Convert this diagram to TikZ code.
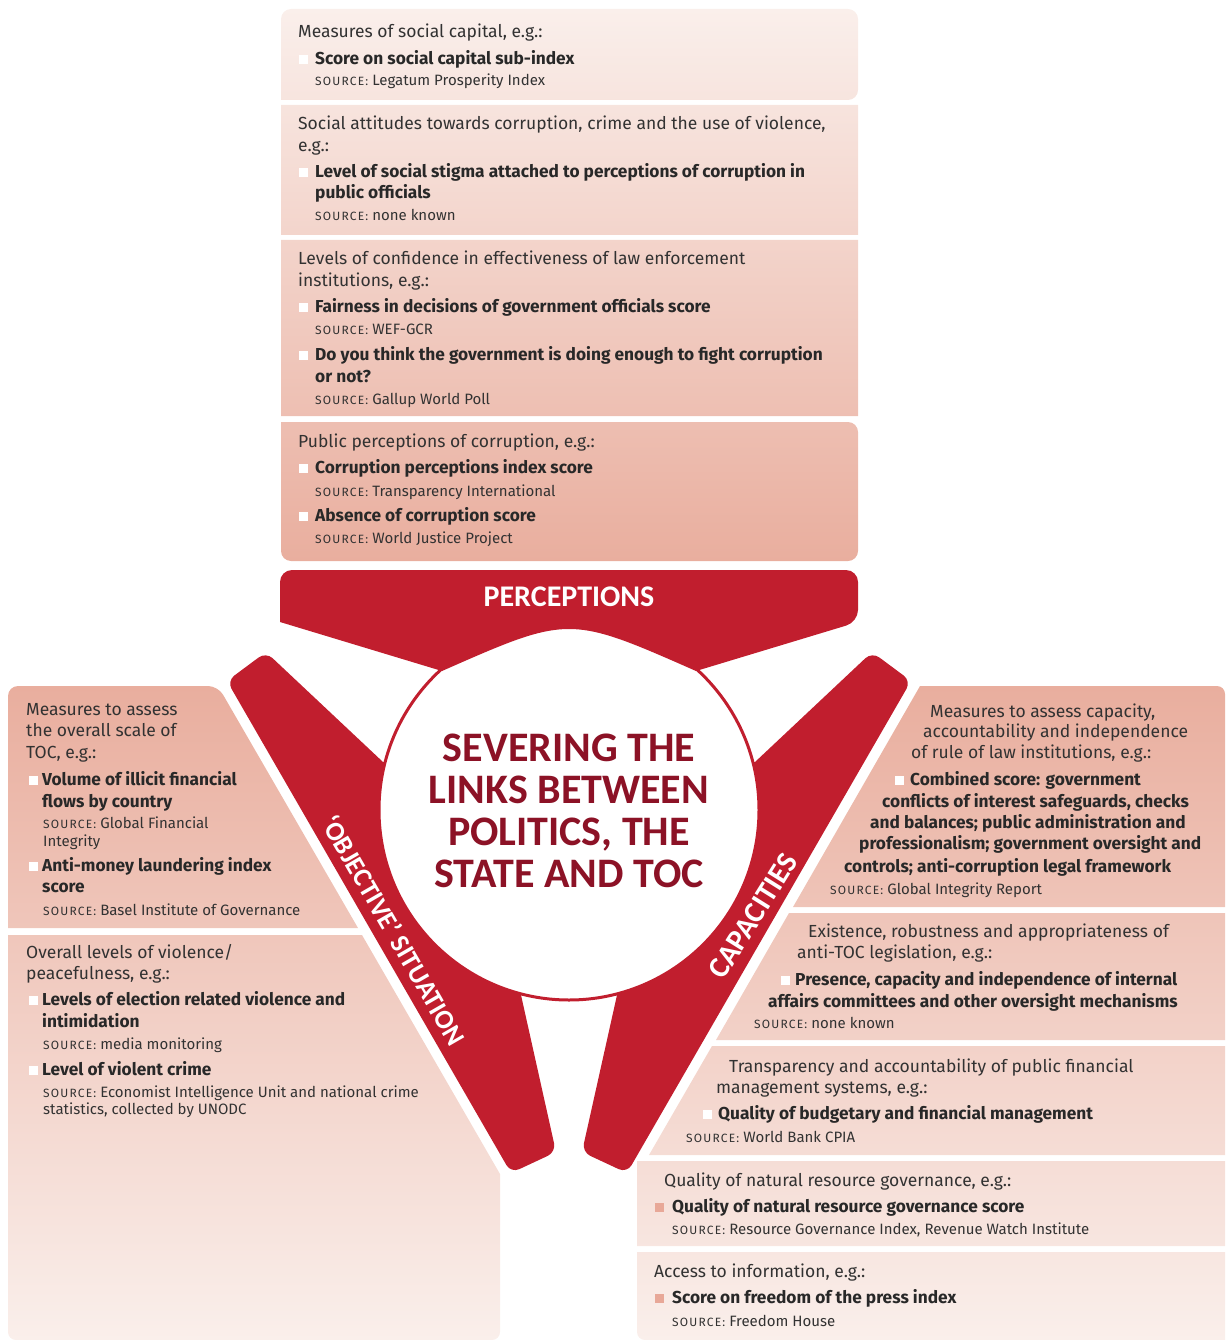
\documentclass[tikz,border=0pt]{standalone}
\usepackage{fontspec}
\setmainfont{Fira Sans}
\newfontfamily\bandfont{Carlito}
\definecolor{redband}{RGB}{193,30,46}
\definecolor{titlered}{RGB}{140,18,38}
\definecolor{boxdark}{RGB}{233,174,158}
\definecolor{boxlight}{RGB}{250,239,235}
\definecolor{txtdark}{RGB}{40,40,40}
\definecolor{txtgray}{RGB}{50,50,50}
\definecolor{bulpink}{RGB}{232,168,152}
\newcommand{\srcmark}{{\addfontfeatures{LetterSpace=10}\fontsize{12}{13}\selectfont SOURCE:}}
\begin{document}
\begin{tikzpicture}
          [x=1pt,y=-1pt,
          line/.style={anchor=base west,inner sep=0pt,text height=12pt,text depth=3.5pt},
          hd/.style={line,text=txtgray,font=\fontsize{17.5}{19}\selectfont},
          itm/.style={line,text=txtdark,font=\bfseries\fontsize{17.3}{19}\selectfont},
          src/.style={line,text=txtgray,text height=11pt,font=\fontsize{15}{16}\selectfont},
          bul/.style={fill=white,minimum size=9pt,inner sep=0pt},
          pbul/.style={bul,fill=bulpink},
          armtext/.style={text=white,font=\bandfont\bfseries\fontsize{27}{27}\selectfont}]

          \useasboundingbox (0,0) rectangle (1225,1340);

          % indicator boxes
          \shade[top color=boxlight,bottom color=boxdark]
            (281,100) [rounded corners=10] -- (281,9) -- (858,9) -- (858,100) [sharp corners] -- cycle
            (281,105) rectangle (858,235)
            (281,240) rectangle (858,416)
            (281,422) [rounded corners=10] -- (281,561) -- (858,561) -- (858,422) [sharp corners] -- cycle;
          \shade[top color=boxdark,bottom color=boxlight]
            (8,928) [rounded corners=10] -- (8,686) -- (218,686) [sharp corners] -- (358,928) -- cycle
            (8,935) -- (362,935) -- (500,1174) [rounded corners=8] -- (500,1340) -- (8,1340) [sharp corners] -- cycle;
          \shade[top color=boxdark,bottom color=boxlight]
            (920,686) [rounded corners=8] -- (1225,686) [sharp corners] -- (1225,907) -- (793,907) -- cycle
            (789,913) -- (1225,913) -- (1225,1040) -- (716,1040) -- cycle
            (712,1046) -- (1225,1046) -- (1225,1155) -- (649,1155) -- cycle
            (637,1161) rectangle (1225,1246)
            (1225,1252) -- (637,1252) [rounded corners=8] -- (637,1340) [sharp corners] -- (1225,1340) -- cycle;

          % red arms, circle and banner
          \fill[redband] (383,762) -- (569,810) -- (521,995) [rounded corners=9] -- (556,1152) -- (511,1173) -- (227,681) -- (266,652) [sharp corners] -- cycle;
          \fill[redband] (755,762) -- (569,810) -- (617,995) [rounded corners=9] -- (582,1152) -- (627,1173) -- (911,681) -- (872,652) [sharp corners] -- cycle;
          \filldraw[fill=white,draw=redband,line width=3pt] (569,810) circle[radius=190];
          \fill[redband] (442,671) -- (280,622) [rounded corners=12] -- (280,570) -- (858,570) -- (858,622) [sharp corners] -- (696,671) .. controls (569,615) .. (442,671) -- cycle;

          \node (perc) [text=white,font=\bandfont\bfseries\fontsize{30}{30}\selectfont] at (569,597) {PERCEPTIONS};
          \node (title) [align=center,text=titlered,font=\bandfont\bfseries\fontsize{42}{42}\selectfont] at (569,811) {SEVERING THE\\LINKS BETWEEN\\POLITICS, THE\\STATE AND TOC};
          \node (objsit) [armtext,inner sep=0pt,rotate=-60] at (394,930) {‘OBJECTIVE’ SITUATION};
          \node (capac) [armtext,inner sep=0pt,font=\bandfont\bfseries\fontsize{30}{30}\selectfont,rotate=58] at (753,916) {CAPACITIES};

          % perceptions column
          \node (t1h) [hd] at (298,38) {Measures of social capital, e.g.:};
          \node (t1q) [bul] at (303,60) {};
          \node (t1i) [itm] at (315,65) {Score on social capital sub-index};
          \node (t1s) [src] at (315,86) {\srcmark\ Legatum Prosperity Index};

          \node (t2h1) [hd] at (298,130) {Social attitudes towards corruption, crime and the use of violence,};
          \node (t2h2) [hd] at (298,152) {e.g.:};
          \node (t2q) [bul] at (303,173) {};
          \node (t2i1) [itm] at (315,178) {Level of social stigma attached to perceptions of corruption in};
          \node (t2i2) [itm] at (315,199) {public officials};
          \node (t2s) [src] at (315,221) {\srcmark\ none known};

          \node (t3h1) [hd] at (298,265) {Levels of confidence in effectiveness of law enforcement};
          \node (t3h2) [hd] at (298,286) {institutions, e.g.:};
          \node (t3q1) [bul] at (303,307) {};
          \node (t3i1) [itm] at (315,312) {Fairness in decisions of government officials score};
          \node (t3s1) [src] at (315,334) {\srcmark\ WEF-GCR};
          \node (t3q2) [bul] at (303,355) {};
          \node (t3i2) [itm] at (315,360) {Do you think the government is doing enough to fight corruption};
          \node (t3i3) [itm] at (315,382) {or not?};
          \node (t3s2) [src] at (315,404) {\srcmark\ Gallup World Poll};

          \node (t4h) [hd] at (298,447) {Public perceptions of corruption, e.g.:};
          \node (t4q1) [bul] at (303,468) {};
          \node (t4i1) [itm] at (315,473) {Corruption perceptions index score};
          \node (t4s1) [src] at (315,496) {\srcmark\ Transparency International};
          \node (t4q2) [bul] at (303,516) {};
          \node (t4i2) [itm] at (315,521) {Absence of corruption score};
          \node (t4s2) [src] at (315,543) {\srcmark\ World Justice Project};

          % objective situation column
          \node (l1h1) [hd] at (26,715) {Measures to assess};
          \node (l1h2) [hd] at (26,736) {the overall scale of};
          \node (l1h3) [hd] at (26,758) {TOC, e.g.:};
          \node (l1q1) [bul] at (33,780) {};
          \node (l1i1) [itm] at (42,785) {Volume of illicit financial};
          \node (l1i2) [itm] at (42,807) {flows by country};
          \node (l1s1) [src] at (43,828) {\srcmark\ Global Financial};
          \node (l1s2) [src] at (43,846) {Integrity};
          \node (l1q2) [bul] at (33,866) {};
          \node (l1i3) [itm] at (42,871) {Anti-money laundering index};
          \node (l1i4) [itm] at (42,892) {score};
          \node (l1s3) [src] at (43,915) {\srcmark\ Basel Institute of Governance};

          \node (l2h1) [hd] at (26,958) {Overall levels of violence/};
          \node (l2h2) [hd] at (26,979) {peacefulness, e.g.:};
          \node (l2q1) [bul] at (33,1000) {};
          \node (l2i1) [itm] at (42,1005) {Levels of election related violence and};
          \node (l2i2) [itm] at (42,1027) {intimidation};
          \node (l2s1) [src] at (43,1049) {\srcmark\ media monitoring};
          \node (l2q2) [bul] at (33,1070) {};
          \node (l2i3) [itm] at (42,1075) {Level of violent crime};
          \node (l2s2) [src] at (43,1097) {\srcmark\ Economist Intelligence Unit and national crime};
          \node (l2s3) [src] at (43,1114) {statistics, collected by UNODC};

          % capacities column
          \node (r1h1) [hd] at (930,717) {Measures to assess capacity,};
          \node (r1h2) [hd] at (923,737) {accountability and independence};
          \node (r1h3) [hd] at (911,758) {of rule of law institutions, e.g.:};
          \node (r1q) [bul] at (899,780) {};
          \node (r1i1) [itm] at (910,785) {Combined score: government};
          \node (r1i2) [itm] at (882,807) {conflicts of interest safeguards, checks};
          \node (r1i3) [itm] at (870,828) {and balances; public administration and};
          \node (r1i4) [itm] at (859,849) {professionalism; government oversight and};
          \node (r1i5) [itm] at (844,872) {controls; anti-corruption legal framework};
          \node (r1s) [src] at (830,894) {\srcmark\ Global Integrity Report};

          \node (r2h1) [hd] at (808,937) {Existence, robustness and appropriateness of};
          \node (r2h2) [hd] at (797,958) {anti-TOC legislation, e.g.:};
          \node (r2q) [bul] at (785,980) {};
          \node (r2i1) [itm] at (795,985) {Presence, capacity and independence of internal};
          \node (r2i2) [itm] at (768,1007) {affairs committees and other oversight mechanisms};
          \node (r2s) [src] at (754,1028) {\srcmark\ none known};

          \node (r3h1) [hd] at (729,1072) {Transparency and accountability of public financial};
          \node (r3h2) [hd] at (716,1093) {management systems, e.g.:};
          \node (r3q) [bul] at (707,1114) {};
          \node (r3i) [itm] at (718,1119) {Quality of budgetary and financial management};
          \node (r3s) [src] at (686,1142) {\srcmark\ World Bank CPIA};

          \node (r4h) [hd] at (664,1186) {Quality of natural resource governance, e.g.:};
          \node (r4q) [pbul] at (659,1207) {};
          \node (r4i) [itm] at (672,1212) {Quality of natural resource governance score};
          \node (r4s) [src] at (672,1234) {\srcmark\ Resource Governance Index, Revenue Watch Institute};

          \node (r5h) [hd] at (654,1277) {Access to information, e.g.:};
          \node (r5q) [pbul] at (659,1298) {};
          \node (r5i) [itm] at (672,1303) {Score on freedom of the press index};
          \node (r5s) [src] at (672,1326) {\srcmark\ Freedom House};

        \end{tikzpicture}
\end{document}
